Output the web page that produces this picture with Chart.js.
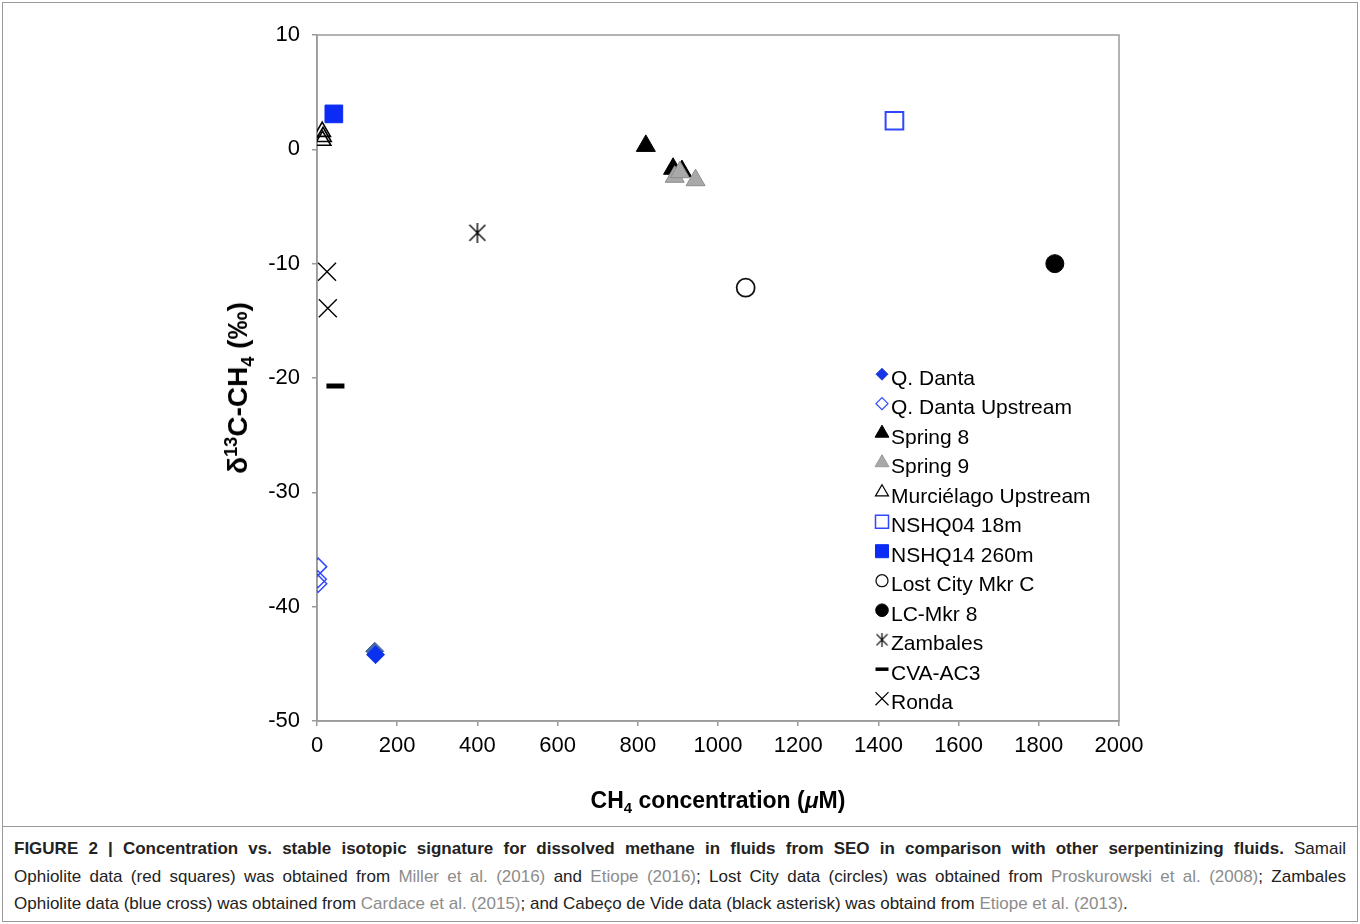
<!DOCTYPE html>
<html><head><meta charset="utf-8">
<script src="https://cdn.jsdelivr.net/npm/chart.js@4.4.0/dist/chart.umd.min.js"></script>
<style>
html,body{margin:0;padding:0;background:#fff;}
body{width:1360px;height:924px;position:relative;overflow:hidden;font-family:'Liberation Sans',Arial,sans-serif;color:#000;}
#frame{position:absolute;left:2px;top:2px;width:1356px;height:920px;border:1px solid #9a9a9a;box-sizing:border-box;}
#sep{position:absolute;left:2px;top:826px;width:1356px;height:0;border-top:1px solid #9a9a9a;}
#wrap{position:absolute;left:0;top:0;width:1360px;height:826px;}
#ytitle{position:absolute;left:238px;top:388px;transform:translate(-50%,-50%) rotate(-90deg);font-weight:bold;font-size:28px;white-space:nowrap;}
#xtitle{position:absolute;left:718px;top:800px;transform:translate(-50%,-50%);font-weight:bold;font-size:23px;white-space:nowrap;}
sup,sub{font-size:0.65em;line-height:0;}
#caption{position:absolute;left:14px;top:835px;width:1332px;font-size:17px;line-height:27.5px;color:#222;}
#caption .ln{white-space:nowrap;text-align:justify;text-align-last:justify;}
#caption .last{white-space:nowrap;text-align:left;}
.ref{color:#8c8c8c;}
</style></head>
<body>
<div id="frame"></div>
<div id="sep"></div>
<div id="wrap"><canvas id="c" width="1360" height="826"></canvas></div>
<div id="ytitle">δ<sup>13</sup>C-CH<sub>4</sub> (‰)</div>
<div id="xtitle">CH<sub>4</sub> concentration (<i>μ</i>M)</div>
<div id="caption">
<div class="ln"><b>FIGURE 2 | Concentration vs. stable isotopic signature for dissolved methane in fluids from SEO in comparison with other serpentinizing fluids.</b> Samail</div>
<div class="ln">Ophiolite data (red squares) was obtained from <span class="ref">Miller et al. (2016)</span> and <span class="ref">Etiope (2016)</span>; Lost City data (circles) was obtained from <span class="ref">Proskurowski et al. (2008)</span>; Zambales</div>
<div class="last">Ophiolite data (blue cross) was obtained from <span class="ref">Cardace et al. (2015)</span>; and Cabeço de Vide data (black asterisk) was obtaind from <span class="ref">Etiope et al. (2013)</span>.</div>
</div>
<script>
// ---- data ----
const seriesNames = ['Q. Danta','Q. Danta Upstream','Spring 8','Spring 9','Murciélago Upstream','NSHQ04 18m','NSHQ14 260m','Lost City Mkr C','LC-Mkr 8','Zambales','CVA-AC3','Ronda'];
const qDantaX = [144, 146];        const qDantaY = [-43.9, -44.2];
const qDantaUpX = [3, 2, 3];       const qDantaUpY = [-36.5, -37.6, -38.0];
const spring8X = [820, 888, 910];  const spring8Y = [0.3, -1.7, -1.9];
const spring9X = [892, 905, 944];  const spring9Y = [-2.4, -2.0, -2.7];
const murcX = [13, 15, 14];        const murcY = [1.55, 1.1, 0.77];
const nshq04X = [1440];            const nshq04Y = [2.5];
const nshq14X = [42];              const nshq14Y = [3.1];
const lostCityX = [1069];          const lostCityY = [-12.1];
const lcMkr8X = [1840];            const lcMkr8Y = [-10.0];
const zambalesX = [400];           const zambalesY = [-7.3];
const cvaX = [46];                 const cvaY = [-20.7];
const rondaX = [25, 27];           const rondaY = [-10.7, -13.9];
const xTickValues = [0,200,400,600,800,1000,1200,1400,1600,1800,2000];
const yTickValues = [-50,-40,-30,-20,-10,0,10];

function pts(xs, ys){ return xs.map((x,i)=>({x:x, y:ys[i]})); }

function makeAsterisk(w,h,lw){
  const c=document.createElement('canvas'); c.width=w; c.height=h;
  const g=c.getContext('2d'); g.strokeStyle='#000'; g.lineWidth=lw;
  g.beginPath();
  g.moveTo(w/2,0); g.lineTo(w/2,h);
  g.moveTo(1,h*0.1); g.lineTo(w-1,h*0.9);
  g.moveTo(w-1,h*0.1); g.lineTo(1,h*0.9);
  g.stroke();
  return c;
}
const astBig = makeAsterisk(18,20,1.4);
const astSmall = makeAsterisk(13,14,1.2);

const BLUE='#0a2cf5', BLUE_O='#2f48ff';
const datasets = [
  {label:seriesNames[0], data:pts(qDantaX,qDantaY), pointStyle:'rectRot', pointRadius:9,
   backgroundColor:['#4568ae','#0a30f0'], borderColor:['#3f5f9f','#1a3ce0'], borderWidth:1,
   lg:{style:'rectRot', r:6, fill:'#1536e8', stroke:'#2a48c8', lw:1}},
  {label:seriesNames[1], data:pts(qDantaUpX,qDantaUpY), pointStyle:'rectRot', pointRadius:8.5,
   backgroundColor:'rgba(0,0,0,0)', borderColor:BLUE_O, borderWidth:1.5,
   lg:{style:'rectRot', r:6, fill:'rgba(0,0,0,0)', stroke:BLUE_O, lw:1.2}},
  {label:seriesNames[2], data:pts(spring8X,spring8Y), pointStyle:'triangle', pointRadius:11,
   backgroundColor:'#000', borderColor:'#000', borderWidth:1,
   lg:{style:'triangle', r:8, fill:'#000', stroke:'#000', lw:1}},
  {label:seriesNames[3], data:pts(spring9X,spring9Y), pointStyle:'triangle', pointRadius:11, order:-1,
   backgroundColor:'#a9a9a9', borderColor:'#8c8c8c', borderWidth:1,
   lg:{style:'triangle', r:8, fill:'#a9a9a9', stroke:'#999', lw:1}},
  {label:seriesNames[4], data:pts(murcX,murcY), pointStyle:'triangle', pointRadius:9.5,
   backgroundColor:'rgba(0,0,0,0)', borderColor:'#000', borderWidth:1.6,
   lg:{style:'triangle', r:7.5, fill:'rgba(0,0,0,0)', stroke:'#000', lw:1.2}},
  {label:seriesNames[5], data:pts(nshq04X,nshq04Y), pointStyle:'rect', pointRadius:12.5,
   backgroundColor:'rgba(0,0,0,0)', borderColor:BLUE_O, borderWidth:2,
   lg:{style:'rect', r:9.2, fill:'rgba(0,0,0,0)', stroke:BLUE_O, lw:1.5}},
  {label:seriesNames[6], data:pts(nshq14X,nshq14Y), pointStyle:'rect', pointRadius:12.5,
   backgroundColor:BLUE, borderColor:BLUE, borderWidth:1,
   lg:{style:'rect', r:9.2, fill:BLUE, stroke:BLUE, lw:1}},
  {label:seriesNames[7], data:pts(lostCityX,lostCityY), pointStyle:'circle', pointRadius:9,
   backgroundColor:'rgba(0,0,0,0)', borderColor:'#111', borderWidth:1.8,
   lg:{style:'circle', r:6, fill:'rgba(0,0,0,0)', stroke:'#111', lw:1.3}},
  {label:seriesNames[8], data:pts(lcMkr8X,lcMkr8Y), pointStyle:'circle', pointRadius:9,
   backgroundColor:'#000', borderColor:'#000', borderWidth:1,
   lg:{style:'circle', r:6.3, fill:'#000', stroke:'#000', lw:1}},
  {label:seriesNames[9], data:pts(zambalesX,zambalesY), pointStyle:astBig, pointRadius:9,
   backgroundColor:'#000', borderColor:'#000', borderWidth:1,
   lg:{style:astSmall, r:6, fill:'#000', stroke:'#000', lw:1}},
  {label:seriesNames[10], data:pts(cvaX,cvaY), pointStyle:'line', pointRadius:9,
   backgroundColor:'#000', borderColor:'#000', borderWidth:5,
   lg:{style:'line', r:6.5, fill:'#000', stroke:'#000', lw:3.5}},
  {label:seriesNames[11], data:pts(rondaX,rondaY), pointStyle:'crossRot', pointRadius:12.7,
   backgroundColor:'#000', borderColor:'#000', borderWidth:1.4,
   lg:{style:'crossRot', r:9.2, fill:'#000', stroke:'#000', lw:1.2}}
];
datasets.forEach(d=>{ d.pointHoverRadius=d.pointRadius; d.showLine=false; });

const AXIS='#9a9a9a';
const frameAndLegend = {
  id:'frameAndLegend',
  beforeDatasetsDraw(chart){
    const a=chart.chartArea, ctx=chart.ctx;
    ctx.save(); ctx.strokeStyle=AXIS; ctx.lineWidth=1.5;
    ctx.strokeRect(a.left,a.top,a.right-a.left,a.bottom-a.top);
    ctx.restore();
  },
  afterDatasetsDraw(chart){
    const ctx=chart.ctx;
    const markerX=882, textX=891, top=377.2, gap=29.5;
    ctx.save();
    chart.data.datasets.forEach((ds,i)=>{
      const yc = top + i*gap;
      const m = ds.lg;
      ctx.fillStyle=m.fill; ctx.strokeStyle=m.stroke; ctx.lineWidth=m.lw;
      Chart.helpers.drawPoint(ctx,{pointStyle:m.style, radius:m.r, rotation:0, borderWidth:m.lw}, markerX, yc-3);
      ctx.fillStyle='#000';
      ctx.font='21px "Liberation Sans", Arial, sans-serif';
      ctx.textBaseline='alphabetic'; ctx.textAlign='left';
      ctx.fillText(ds.label, textX, yc+7.5);
    });
    ctx.restore();
  }
};

const tickFont = {family:'"Liberation Sans", Arial, sans-serif', size:22};
new Chart(document.getElementById('c'), {
  type:'scatter',
  data:{datasets:datasets},
  options:{
    responsive:false, animation:false, events:[],
    layout:{padding:{top:35,right:241,left:0,bottom:0}},
    plugins:{legend:{display:false}, tooltip:{enabled:false}},
    scales:{
      x:{type:'linear', min:0, max:2000, offset:false,
         afterBuildTicks(s){ s.ticks = xTickValues.map(v=>({value:v})); },
         afterFit(s){ s.height = 105; },
         ticks:{font:tickFont, color:'#000', padding:7, maxRotation:0, autoSkip:false, callback:v=>String(v)},
         grid:{display:true, drawOnChartArea:false, drawTicks:true, tickLength:5, color:AXIS, lineWidth:1.5},
         border:{display:true, color:AXIS, width:1.5}},
      y:{type:'linear', min:-50, max:10,
         afterBuildTicks(s){ s.ticks = yTickValues.map(v=>({value:v})); },
         afterFit(s){ s.width = 317; },
         ticks:{font:tickFont, color:'#000', padding:12, autoSkip:false, callback:v=>String(v)},
         grid:{display:true, drawOnChartArea:false, drawTicks:true, tickLength:5, color:AXIS, lineWidth:1.5},
         border:{display:true, color:AXIS, width:1.5}}
    }
  },
  plugins:[frameAndLegend]
});
</script>
</body></html>
